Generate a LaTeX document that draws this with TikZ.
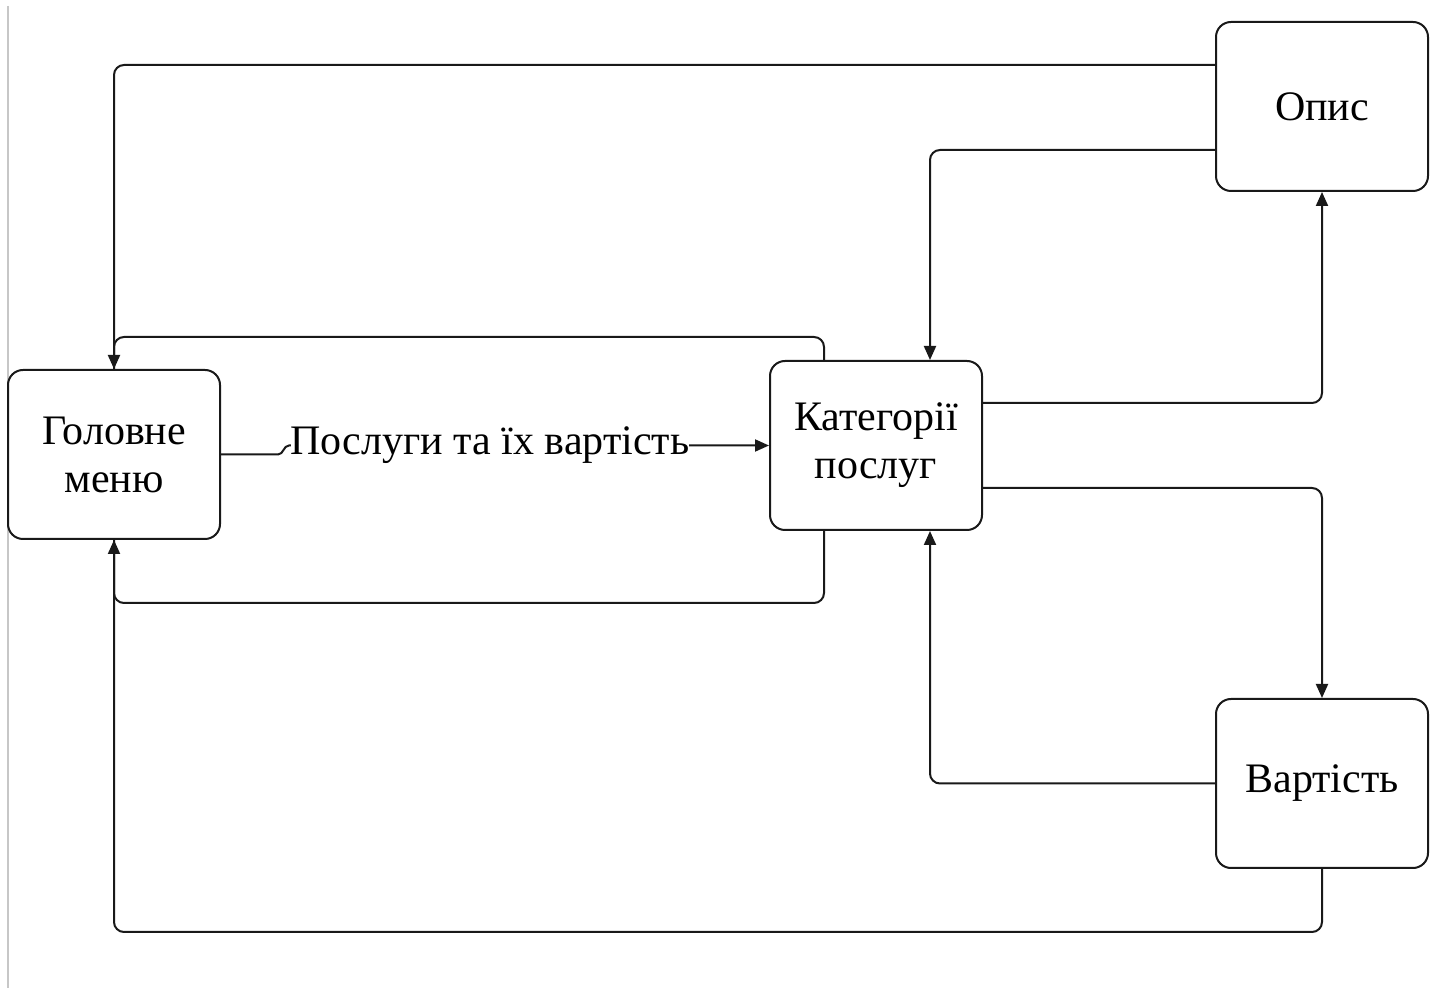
\documentclass[tikz,border=0pt]{standalone}
\usepackage{fontspec}
\setmainfont{Liberation Serif}
\usetikzlibrary{arrows.meta}
\tikzset{
  block/.style={draw=black!90, line width=1pt, rounded corners=7.5pt, fill=white,
    minimum width=106pt, minimum height=84.5pt, align=center, inner sep=2pt,
    font=\fontsize{21}{24}\selectfont},
  conn/.style={draw=black!90, line width=1pt, rounded corners=5pt},
  arr/.style={conn, -{Triangle[length=7pt,width=6pt]}},
  lbl/.style={fill=white, inner xsep=0pt, inner ysep=2pt, font=\fontsize{21}{24}\selectfont}
}
\begin{document}
\begin{tikzpicture}[x=0.5pt,y=-0.5pt]
  % canvas
  \fill[white] (0,0) rectangle (1437,988);
  \useasboundingbox (0,0) rectangle (1437,988);
  \draw[black!22, line width=0.8pt] (8,6) -- (8,988);

  % boxes
  \node[block] (g) at (114,454.5) {Головне\\меню};
  \node[block] (k) at (876,445.5) {Категорії\\послуг};
  \node[block] (o) at (1322,106.5) {Опис};
  \node[block] (v) at (1322,783.5) {Вартість};

  % Опис -> Головне меню
  \draw[arr] (o.west |- 0,65) -| (g.north);
  % Опис -> Категорії послуг
  \draw[arr] (o.west |- 0,150) -| (k.north -| 930,0);
  % Категорії послуг -> Опис
  \draw[arr] (k.east |- 0,403) -| (o.south);
  % Категорії послуг -> Вартість
  \draw[arr] (k.east |- 0,488) -| (v.north);
  % Вартість -> Категорії послуг
  \draw[arr] (v.west) -| (k.south -| 930,0);
  % Вартість -> Головне меню
  \draw[arr] (v.south) |- (114,932) -- (g.south);
  % Категорії послуг -> Головне меню (top loop)
  \draw[conn] (k.north -| 824,0) |- (114,337) -- (g.north);
  % Категорії послуг -> Головне меню (bottom loop)
  \draw[conn] (k.south -| 824,0) |- (114,603) -- (g.south);

  % Головне меню -> Категорії послуг, labelled
  \coordinate (ja) at (278,454.5);
  \coordinate (jb) at (289,445.5);
  \draw[arr, rounded corners=0pt] (g.east) -- (ja) to[out=0,in=180] (jb) -- (k.west);
  \node[lbl] (l) at (490,445.5) {Послуги та їх вартість};
\end{tikzpicture}
\end{document}
